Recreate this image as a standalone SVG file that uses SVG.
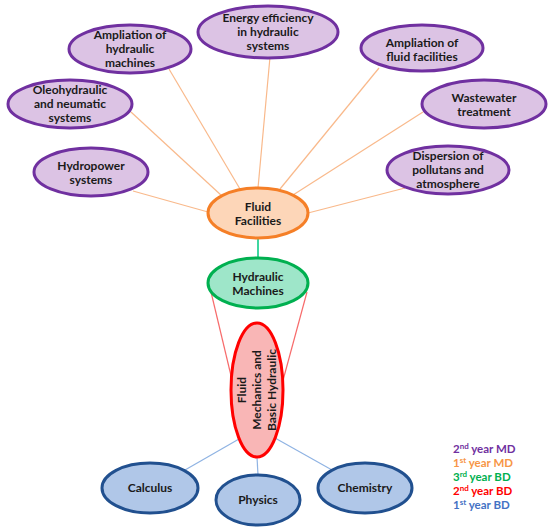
<svg xmlns="http://www.w3.org/2000/svg" width="550" height="532" viewBox="0 0 550 532">
<style>
text{font-family:Lato,"Liberation Sans",sans-serif;font-weight:bold;font-size:12px;fill:#1a1a1a;text-anchor:middle}
.p{fill:#dcc3e4;stroke:#7030a0;stroke-width:3}
.o{fill:#fdd6b8;stroke:#f57f27;stroke-width:3}
.g{fill:#9ee6c9;stroke:#00b050;stroke-width:3}
.r{fill:#f9b6b6;stroke:#ff0000;stroke-width:3}
.b{fill:#b0c7e8;stroke:#21508f;stroke-width:3}
.co{stroke:#f9b98b;stroke-width:1.2}
.cr{stroke:#f76b6b;stroke-width:1.2}
.cb{stroke:#8fb3e3;stroke-width:1.2}
.cg{stroke:#3fd6a0;stroke-width:2}
.lg{text-anchor:start;font-size:11.5px}
.sup{font-size:8px}
</style>
<g id="connectors" fill="none">
<line class="co" x1="133" y1="191" x2="208" y2="212"/>
<line class="co" x1="131" y1="112" x2="222" y2="196"/>
<line class="co" x1="169" y1="69" x2="240" y2="189"/>
<line class="co" x1="270" y1="57" x2="258" y2="188"/>
<line class="co" x1="379" y1="68" x2="280" y2="189"/>
<line class="co" x1="423" y1="112" x2="293" y2="195"/>
<line class="co" x1="405" y1="188" x2="308" y2="213"/>
<line class="cg" x1="258" y1="238" x2="258" y2="258"/>
<line class="cr" x1="211" y1="292" x2="233" y2="384"/>
<line class="cr" x1="307" y1="292" x2="282" y2="384"/>
<line class="cb" x1="239" y1="439" x2="185" y2="470"/>
<line class="cb" x1="257" y1="457" x2="258" y2="475"/>
<line class="cb" x1="275" y1="438" x2="332" y2="470"/>
</g>
<g id="energy"><ellipse class="p" cx="268" cy="32" rx="70" ry="26"/><text x="268" y="22">Energy efficiency</text><text x="268" y="36">in hydraulic</text><text x="268" y="50">systems</text></g>
<g id="ampl-hydraulic"><ellipse class="p" cx="130" cy="49" rx="61" ry="24"/><text x="130" y="39">Ampliation of</text><text x="130" y="53">hydraulic</text><text x="130" y="67">machines</text></g>
<g id="oleohydraulic"><ellipse class="p" cx="70" cy="104" rx="62" ry="24"/><text x="70" y="94">Oleohydraulic</text><text x="70" y="108">and neumatic</text><text x="70" y="122">systems</text></g>
<g id="hydropower"><ellipse class="p" cx="91" cy="172" rx="57" ry="24"/><text x="91" y="170">Hydropower</text><text x="91" y="184">systems</text></g>
<g id="ampl-fluid"><ellipse class="p" cx="422" cy="48" rx="61" ry="23"/><text x="422" y="47">Ampliation of</text><text x="422" y="61">fluid facilities</text></g>
<g id="wastewater"><ellipse class="p" cx="484" cy="104" rx="62" ry="24"/><text x="484" y="102">Wastewater</text><text x="484" y="116">treatment</text></g>
<g id="dispersion"><ellipse class="p" cx="448" cy="170" rx="61" ry="24"/><text x="448" y="160">Dispersion of</text><text x="448" y="174">pollutans and</text><text x="448" y="188">atmosphere</text></g>
<g id="fluid-facilities"><ellipse class="o" cx="258" cy="213" rx="50" ry="25"/><text x="258" y="211">Fluid</text><text x="258" y="225">Facilities</text></g>
<g id="hydraulic-machines"><ellipse class="g" cx="258" cy="283" rx="50" ry="25"/><text x="258" y="281">Hydraulic</text><text x="258" y="295">Machines</text></g>
<g id="fluid-mechanics"><ellipse class="r" cx="257" cy="390" rx="26" ry="67"/><g transform="translate(257,390) rotate(-90)"><text x="0" y="-11">Fluid</text><text x="0" y="4">Mechanics and</text><text x="0" y="19">Basic Hydraulic</text></g></g>
<g id="calculus"><ellipse class="b" cx="150" cy="488" rx="48" ry="25"/><text x="150" y="492">Calculus</text></g>
<g id="physics"><ellipse class="b" cx="258" cy="500" rx="42" ry="25"/><text x="258" y="504">Physics</text></g>
<g id="chemistry"><ellipse class="b" cx="365" cy="488" rx="47" ry="25"/><text x="365" y="492">Chemistry</text></g>
<g id="legend">
<text class="lg" x="453" y="453" style="fill:#7030a0">2<tspan class="sup" dy="-4" style="fill:#7030a0">nd</tspan><tspan dy="4" style="fill:#7030a0"> year MD</tspan></text>
<text class="lg" x="453" y="467" style="fill:#f79646">1<tspan class="sup" dy="-4" style="fill:#f79646">st</tspan><tspan dy="4" style="fill:#f79646"> year MD</tspan></text>
<text class="lg" x="453" y="481" style="fill:#00b050">3<tspan class="sup" dy="-4" style="fill:#00b050">rd</tspan><tspan dy="4" style="fill:#00b050"> year BD</tspan></text>
<text class="lg" x="453" y="495" style="fill:#ff0000">2<tspan class="sup" dy="-4" style="fill:#ff0000">nd</tspan><tspan dy="4" style="fill:#ff0000"> year BD</tspan></text>
<text class="lg" x="453" y="509" style="fill:#4472c4">1<tspan class="sup" dy="-4" style="fill:#4472c4">st</tspan><tspan dy="4" style="fill:#4472c4"> year BD</tspan></text>
</g>
</svg>
